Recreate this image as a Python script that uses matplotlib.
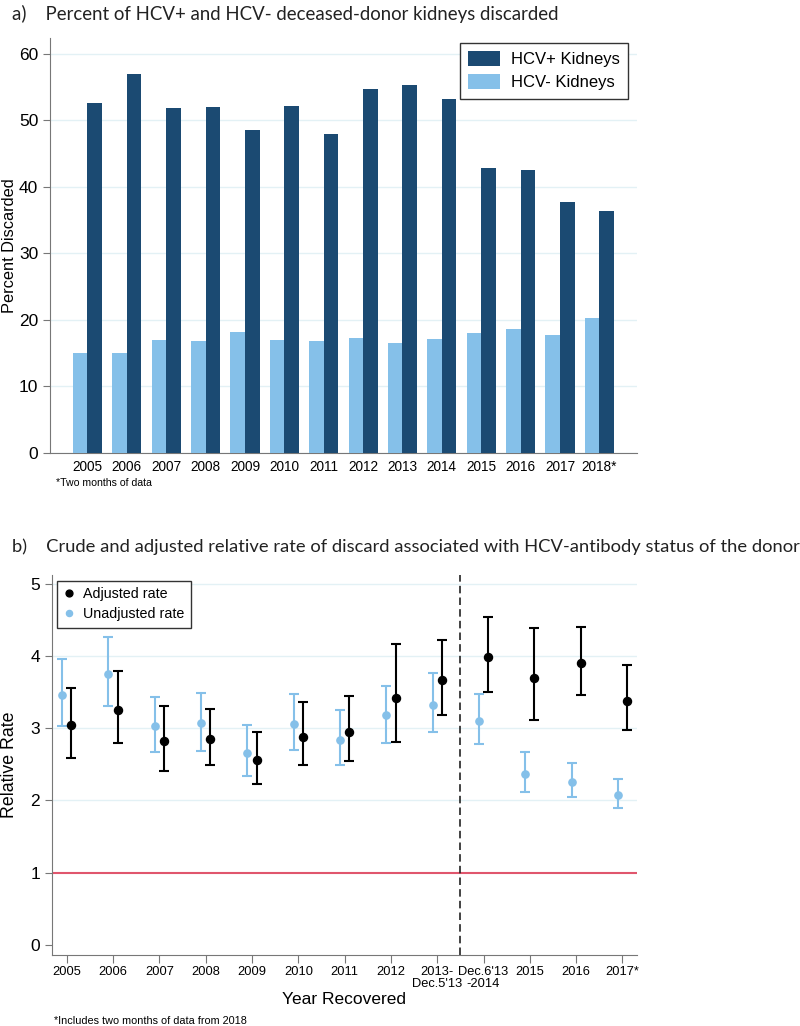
import matplotlib
matplotlib.use("Agg")
import matplotlib.pyplot as plt
import numpy as np

# ---- panel a data ----
years_a = ["2005", "2006", "2007", "2008", "2009", "2010", "2011", "2012",
           "2013", "2014", "2015", "2016", "2017", "2018*"]
hcv_pos = [52.6, 57.0, 51.8, 52.0, 48.5, 52.1, 47.9, 54.8, 55.3, 53.2, 42.8, 42.5, 37.8, 36.4]
hcv_neg = [15.1, 15.1, 17.0, 16.9, 18.2, 17.0, 16.8, 17.3, 16.6, 17.2, 18.0, 18.7, 17.8, 20.3]

# ---- panel b data ----
years_b = ["2005", "2006", "2007", "2008", "2009", "2010", "2011", "2012",
           "2013-\nDec.5'13", "Dec.6'13\n-2014", "2015", "2016", "2017*"]
adj_rr = [3.04, 3.25, 2.82, 2.85, 2.56, 2.88, 2.95, 3.42, 3.66, 3.98, 3.69, 3.90, 3.38]
adj_lo = [2.58, 2.79, 2.41, 2.49, 2.22, 2.49, 2.54, 2.81, 3.18, 3.50, 3.11, 3.46, 2.97]
adj_hi = [3.55, 3.79, 3.30, 3.26, 2.94, 3.36, 3.44, 4.17, 4.22, 4.54, 4.39, 4.40, 3.87]
unadj_rr = [3.46, 3.75, 3.03, 3.07, 2.66, 3.06, 2.84, 3.18, 3.32, 3.10, 2.37, 2.26, 2.07]
unadj_lo = [3.03, 3.31, 2.67, 2.69, 2.34, 2.70, 2.49, 2.80, 2.94, 2.78, 2.12, 2.04, 1.89]
unadj_hi = [3.96, 4.26, 3.43, 3.49, 3.04, 3.47, 3.25, 3.59, 3.76, 3.47, 2.67, 2.52, 2.29]

DARK = "#1b4a72"
LIGHT = "#85c0e9"
GRID = "#e3f1f5"
SPINE = "#777777"

plt.rcParams["font.family"] = ["Liberation Sans", "DejaVu Sans"]
TITLE_FONT = ["Lato", "DejaVu Sans"]

fig = plt.figure(figsize=(8, 10.26), dpi=100)

# ================= panel a =================
ax1 = fig.add_axes([0.0625, 0.5585, 0.7335, 0.4045])
x = np.arange(len(years_a))
w = 0.37
ax1.bar(x - w / 2, hcv_neg, w, color=LIGHT, label="HCV- Kidneys", zorder=3)
ax1.bar(x + w / 2, hcv_pos, w, color=DARK, label="HCV+ Kidneys", zorder=3)
ax1.set_xlim(-0.95, 13.95)
ax1.set_ylim(0, 62.4)
ax1.set_yticks(range(0, 61, 10))
ax1.set_xticks(x)
ax1.set_xticklabels(years_a, fontsize=9.8)
ax1.tick_params(axis="x", length=0, pad=5)
ax1.tick_params(axis="y", labelsize=12.5, length=5, color=SPINE)
ax1.yaxis.grid(True, color=GRID, lw=1, zorder=0)
for s in ("top", "right"):
    ax1.spines[s].set_visible(False)
for s in ("left", "bottom"):
    ax1.spines[s].set_color(SPINE)
ax1.set_ylabel("Percent Discarded", fontsize=11.8)
ax1.yaxis.set_label_coords(-0.057, 0.5)
h, l = ax1.get_legend_handles_labels()
leg1 = ax1.legend(h[::-1], l[::-1], loc="upper right", bbox_to_anchor=(0.985, 0.988),
                  borderaxespad=0, fontsize=12, fancybox=False, edgecolor="#333333",
                  framealpha=1, handlelength=1.9, handleheight=1.0, handletextpad=0.65,
                  borderpad=0.5, labelspacing=0.4)
leg1.get_frame().set_linewidth(1.0)
fig.text(0.015, 0.986, "a)    Percent of HCV+ and HCV- deceased-donor kidneys discarded",
         fontsize=13.4, family=TITLE_FONT, va="center", color="#222222")
fig.text(0.07, 0.529, "*Two months of data", fontsize=7.6, va="center")

# ================= panel b =================
ax2 = fig.add_axes([0.065, 0.0692, 0.731, 0.3704])
xb = np.arange(len(years_b))
off = 0.2
ax2.axhline(1, color="#e0566d", lw=1.5, zorder=2)
ax2.axvline(8.5 - off / 2, color="#222222", lw=1.2, ls=(0, (4.5, 2.5)), zorder=2)
eb_u = ax2.errorbar(xb - off, unadj_rr,
                    yerr=[np.subtract(unadj_rr, unadj_lo), np.subtract(unadj_hi, unadj_rr)],
                    fmt="o", color=LIGHT, ms=5.2, capsize=3.5, elinewidth=1.5, capthick=1.5,
                    zorder=4)
eb_a = ax2.errorbar(xb, adj_rr,
                    yerr=[np.subtract(adj_rr, adj_lo), np.subtract(adj_hi, adj_rr)],
                    fmt="o", color="black", ms=5.8, capsize=3.5, elinewidth=1.5, capthick=1.5,
                    zorder=5)
ax2.set_xlim(-0.42, 12.21)
ax2.set_ylim(-0.14, 5.12)
ax2.set_yticks(range(0, 6))
ax2.set_xticks(xb - off / 2)
ax2.set_xticklabels(years_b, fontsize=9.3, linespacing=0.95)
ax2.tick_params(axis="x", length=6, color=SPINE, pad=2)
ax2.tick_params(axis="y", labelsize=12.5, length=5, color=SPINE)
for yv in (2, 3, 4, 5):
    ax2.axhline(yv, color=GRID, lw=1, zorder=0)
for s in ("top", "right"):
    ax2.spines[s].set_visible(False)
for s in ("left", "bottom"):
    ax2.spines[s].set_color(SPINE)
ax2.set_ylabel("Relative Rate", fontsize=12.8)
ax2.yaxis.set_label_coords(-0.058, 0.5)
ax2.set_xlabel("Year Recovered", fontsize=12.5)
ax2.xaxis.set_label_coords(0.5, -0.097)
leg2 = ax2.legend([eb_a.lines[0], eb_u.lines[0]], ["Adjusted rate", "Unadjusted rate"],
                  loc="upper left", bbox_to_anchor=(0.0085, 0.984), borderaxespad=0,
                  fontsize=10.3, fancybox=False, edgecolor="#333333", framealpha=1,
                  handlelength=0.8, handletextpad=0.6, borderpad=0.45, labelspacing=0.4,
                  markerscale=0.85)
leg2.get_frame().set_linewidth(1.0)
fig.text(0.015, 0.467,
         "b)    Crude and adjusted relative rate of discard associated with HCV-antibody status of the donor",
         fontsize=13.2, family=TITLE_FONT, va="center", color="#222222")
fig.text(0.068, 0.005, "*Includes two months of data from 2018", fontsize=7.8, va="center")

fig.savefig("out.png", dpi=100)
